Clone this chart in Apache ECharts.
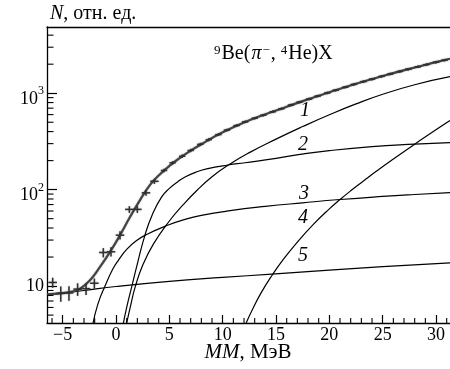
<!DOCTYPE html>
<html>
<head>
<meta charset="utf-8">
<script src="https://cdn.jsdelivr.net/npm/echarts@6/dist/echarts.min.js"></script>
<style>
  html, body { margin: 0; padding: 0; background: #fff; }
  #chart { width: 450px; height: 369px; }
</style>
</head>
<body>
<div id="chart"></div>
<script>
// Missing-mass spectrum 9Be(pi-, 4He)X, log scale, with fitted components 1-5.

// Axis ticks
const xMajorTicks = [-5, 0, 5, 10, 15, 20, 25, 30];
const xMinorTicks = [-6, -4, -3, -2, -1, 1, 2, 3, 4, 6, 7, 8, 9, 11, 12, 13, 14, 16, 17, 18, 19,
  21, 22, 23, 24, 26, 27, 28, 29, 31];
const yMajorTicks = [10, 100, 1000];
const yMinorTicks = [5, 6, 7, 8, 9, 20, 30, 40, 50, 60, 70, 80, 90,
  200, 300, 400, 500, 600, 700, 800, 900, 2000, 3000, 4000];

// Measured points with error crosses: [MM, N, relative error]
const crossPoints = [
  [-5.94, 10.9, 0.12], [-5.18, 8.4, 0.18], [-4.41, 8.5, 0.17], [-3.60, 9.3, 0.15],
  [-2.81, 9.4, 0.14], [-2.03, 10.7, 0.12], [-1.19, 22.3, 0.11], [-0.47, 22.7, 0.11],
  [0.375, 33.7, 0.10], [1.25, 62.4, 0.08], [2.00, 62.4, 0.08], [2.81, 92.7, 0.07],
  [3.60, 122, 0.06]
];

// Measured points with small errors: [MM, N, relative error]
const dashPoints = [
  [4.5, 158, 0.04], [5.3, 190, 0.04], [6.2, 222, 0.04], [7.0, 255, 0.04], [7.9, 295, 0.04],
  [8.7, 330, 0.04], [9.6, 372, 0.03], [10.4, 415, 0.03], [11.3, 462, 0.03], [12.1, 505, 0.03],
  [13.0, 550, 0.03], [13.8, 590, 0.03], [14.7, 642, 0.03], [15.5, 690, 0.03], [16.4, 755, 0.03],
  [17.2, 808, 0.03], [18.1, 870, 0.03], [18.9, 935, 0.03], [19.8, 1005, 0.03], [20.6, 1075, 0.03],
  [21.5, 1155, 0.03], [22.3, 1235, 0.03], [23.2, 1320, 0.03], [24.0, 1400, 0.03], [24.9, 1495, 0.03],
  [25.7, 1580, 0.03], [26.6, 1680, 0.03], [27.4, 1775, 0.03], [28.3, 1880, 0.03], [29.1, 1980, 0.03],
  [30.0, 2095, 0.03], [30.8, 2200, 0.03]
];

// Total fit
const totalFit = [
  [-6.47, 8.2], [-5.25, 8.4], [-4.0, 8.8], [-3.37, 9.4], [-2.44, 11.5], [-1.5, 15.8],
  [-0.56, 22.6], [0.375, 33.7], [1.31, 52], [2.25, 78], [3.19, 112], [4.0, 140], [5.0, 176],
  [6.0, 214], [7.0, 254], [8.0, 296], [10.0, 394], [12.5, 525], [15.0, 661], [17.5, 828],
  [20.0, 1023], [22.5, 1253], [25.0, 1507], [27.5, 1786], [30.0, 2099], [31.31, 2280]
];

// Components
const curve1 = [
  [0.95, 3.9], [1.4, 6.5], [1.8, 9.8], [2.5, 16.4], [3.5, 27.2], [5.0, 47.3], [6.3, 69.8],
  [7.6, 98.6], [9.0, 136], [10.5, 179], [12.5, 242], [15.0, 334], [17.5, 451], [20.0, 598],
  [22.5, 775], [25.0, 975], [28.0, 1225], [31.31, 1483]
];
const curve2 = [
  [0.65, 3.9], [1.0, 6.0], [1.47, 9.8], [2.0, 17], [2.72, 34], [3.4, 55], [4.28, 84], [5.0, 103],
  [5.8, 121], [6.47, 135], [7.5, 152], [8.5, 164], [10.5, 180], [12.1, 190], [15.0, 211],
  [17.25, 232], [20.0, 254], [24.0, 279], [28.0, 296], [31.31, 308]
];
const curve3 = [
  [-2.2, 3.9], [-1.7, 6.5], [-1.03, 10], [-0.3, 15], [0.22, 18.5], [1.0, 24], [1.9, 29.5],
  [2.87, 34.3], [4.9, 43], [6.3, 48.5], [8.0, 54], [10.7, 60.5], [14.0, 67], [17.5, 73],
  [21.0, 79], [25.0, 85], [28.0, 89], [31.31, 93]
];
const curve4 = [
  [12.05, 3.8], [12.8, 5.75], [13.6, 8.5], [14.6, 12.8], [15.7, 19.0], [16.94, 28.1], [18.5, 43.6],
  [20.0, 63.2], [21.0, 79], [22.0, 97.3], [23.2, 123], [24.4, 155], [26.0, 208], [28.0, 296],
  [29.5, 384], [31.31, 520]
];
const curve5 = [
  [-6.47, 8.1], [-3.0, 9.0], [0.0, 9.9], [5.0, 11.2], [10.0, 12.3], [14.6, 13.3], [20.0, 14.6],
  [25.0, 15.9], [31.31, 17.4]
];

const X_MIN = -6.47, X_MAX = 31.31;
const Y_MIN = 4.14, Y_MAX = 4860;
const FONT = '"Liberation Serif", "Times New Roman", serif';
const CROSS_HALF_W = 0.4;
const DASH_HALF_W = 0.3;

const chart = echarts.init(document.getElementById('chart'), null, { renderer: 'canvas' });

function errorMarks(halfW, color, lw) {
  return function (params, api) {
    const x = api.value(0), y = api.value(1), e = api.value(2);
    const l = api.coord([x - halfW, y]), r = api.coord([x + halfW, y]);
    const t = api.coord([x, y * (1 + e)]), b = api.coord([x, y * (1 - e)]);
    const st = { stroke: color, lineWidth: lw, shadowBlur: 1.5, shadowColor: 'rgba(0,0,0,0.35)' };
    return {
      type: 'group',
      children: [
        { type: 'line', shape: { x1: l[0], y1: l[1], x2: r[0], y2: r[1] }, style: st },
        { type: 'line', shape: { x1: t[0], y1: t[1], x2: b[0], y2: b[1] }, style: st }
      ]
    };
  };
}

function compLine(data) {
  return {
    type: 'line', data: data, showSymbol: false, smooth: 0.5,
    lineStyle: { color: '#000', width: 1.2 }, z: 3, silent: true
  };
}

// power-of-ten labels: "10" sits slightly below the tick, exponent raised
const yLabelRich = {
  e: { fontSize: 1, lineHeight: 30, verticalAlign: 'top' },
  n: { fontFamily: FONT, fontSize: 18, color: '#000', verticalAlign: 'bottom', lineHeight: 18 },
  s: { fontFamily: FONT, fontSize: 12, color: '#000', verticalAlign: 'bottom', lineHeight: 12, padding: [0, 0, 11, 0] },
  m: { fontFamily: FONT, fontSize: 18, color: '#000', lineHeight: 18 }
};

function curveLabel(t, x, y) {
  return { type: 'text', x: x, y: y, style: { text: t, font: 'italic 20px ' + FONT, fill: '#000', align: 'center', verticalAlign: 'middle' } };
}

const option = {
  animation: false,
  backgroundColor: '#fff',
  grid: { left: 47, right: 0, top: 27, bottom: 46, containLabel: false },
  xAxis: [
    {
      type: 'value', min: X_MIN, max: X_MAX, position: 'bottom',
      axisLine: { show: true, onZero: false, lineStyle: { color: '#000', width: 1.3 } },
      axisTick: { show: true, inside: true, length: 8, customValues: xMajorTicks,
        lineStyle: { color: '#000', width: 1.2 } },
      axisLabel: { customValues: xMajorTicks, margin: 3, color: '#000', fontFamily: FONT, fontSize: 18,
        formatter: v => String(Math.round(v)).replace('-', '\u2212') },
      splitLine: { show: false }
    },
    {
      type: 'value', min: X_MIN, max: X_MAX, position: 'top',
      axisLine: { show: true, onZero: false, lineStyle: { color: '#000', width: 1.3 } },
      axisTick: { show: false }, axisLabel: { show: false }, splitLine: { show: false }
    }
  ],
  yAxis: {
    type: 'log', logBase: 10, min: Y_MIN, max: Y_MAX,
    axisLine: { show: true, onZero: false, lineStyle: { color: '#000', width: 1.3 } },
    axisTick: { show: true, inside: true, length: 10, customValues: yMajorTicks,
      lineStyle: { color: '#000', width: 1.2 } },
    axisLabel: {
      customValues: yMajorTicks, margin: 3, color: '#000',
      formatter: v => {
        const p = Math.round(Math.log10(v));
        return p === 1 ? '{m|10}' : '{e|\u200b}{n|10}{s|' + p + '}';
      },
      rich: yLabelRich
    },
    splitLine: { show: false }
  },
  graphic: [
    {
      type: 'text', left: 50, top: 4,
      style: { rich: {
        i: { fontFamily: FONT, fontStyle: 'italic', fontSize: 20, fill: '#000' },
        n: { fontFamily: FONT, fontSize: 20, fill: '#000' }
      }, text: '{i|N}{n|, отн. ед.}' }
    },
    {
      type: 'text', x: 248, y: 352,
      style: { rich: {
        i: { fontFamily: FONT, fontStyle: 'italic', fontSize: 21, fill: '#000' },
        n: { fontFamily: FONT, fontSize: 21, fill: '#000' }
      }, text: '{i|MM}{n|, МэВ}', align: 'center', verticalAlign: 'middle' }
    },
    {
      type: 'text', left: 214, top: 44,
      style: { rich: {
        n: { fontFamily: FONT, fontSize: 20, fill: '#000', verticalAlign: 'bottom', lineHeight: 20 },
        i: { fontFamily: FONT, fontStyle: 'italic', fontSize: 20, fill: '#000', verticalAlign: 'bottom', lineHeight: 20, padding: [0, 1, 0, 1] },
        c: { fontFamily: FONT, fontSize: 20, fill: '#000', verticalAlign: 'bottom', lineHeight: 20, padding: [0, 5, 0, 0] },
        s: { fontFamily: FONT, fontSize: 13, fill: '#000', verticalAlign: 'top', lineHeight: 13, padding: [0, 1, 0, 0] }
      }, text: '{s|9}{n|Be(}{i|π}{s|\u2212}{c|,}{s|4}{n|He)X}' }
    },
    curveLabel('1', 305, 111),
    curveLabel('2', 303, 145),
    curveLabel('3', 304, 194),
    curveLabel('4', 303, 218),
    curveLabel('5', 303, 256)
  ],
  series: [
    // minor ticks on both axes
    {
      type: 'custom', data: xMinorTicks.map(v => [v]), clip: false, silent: true, z: 5,
      renderItem: (params, api) => {
        const p = api.coord([api.value(0), Y_MIN]);
        return { type: 'line', shape: { x1: p[0], y1: p[1], x2: p[0], y2: p[1] - 5 },
          style: { stroke: '#000', lineWidth: 1.1 } };
      }
    },
    {
      type: 'custom', data: yMinorTicks.map(v => [X_MIN, v]), clip: false, silent: true, z: 5,
      renderItem: (params, api) => {
        const p = api.coord([X_MIN, api.value(1)]);
        return { type: 'line', shape: { x1: p[0], y1: p[1], x2: p[0] + 6.5, y2: p[1] },
          style: { stroke: '#000', lineWidth: 1.1 } };
      }
    },
    compLine(curve1), compLine(curve2), compLine(curve3), compLine(curve4), compLine(curve5),
    {
      type: 'line', data: totalFit, showSymbol: false, smooth: 0.5, z: 4, silent: true,
      lineStyle: { color: '#444', width: 2.2, shadowBlur: 1.5, shadowColor: 'rgba(0,0,0,0.3)' }
    },
    { type: 'custom', data: crossPoints, renderItem: errorMarks(CROSS_HALF_W, '#333', 1.5), z: 6, silent: true },
    { type: 'custom', data: dashPoints, renderItem: errorMarks(DASH_HALF_W, '#333', 1.4), z: 6, silent: true }
  ]
};

chart.setOption(option);
</script>
</body>
</html>
